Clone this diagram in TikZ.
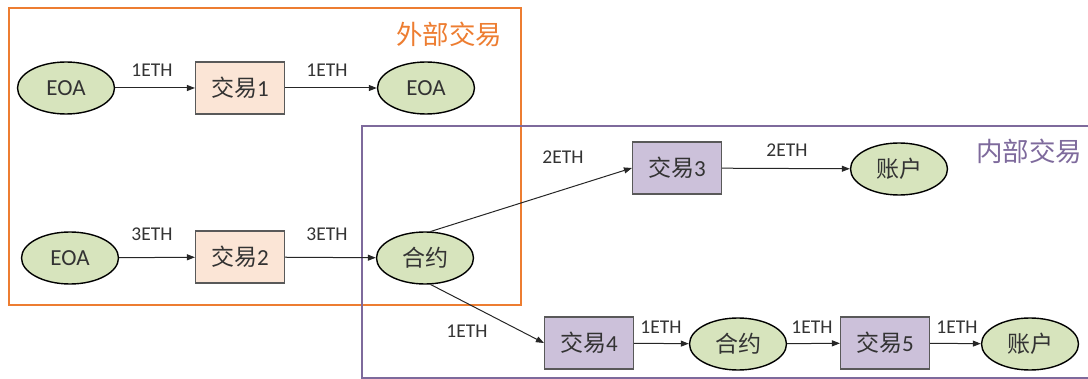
\documentclass[tikz,border=0pt]{standalone}
\usepackage{fontspec}
\setmainfont{Carlito}
\newfontfamily\cjk{Noto Sans CJK SC}
\usetikzlibrary{shapes.geometric,arrows.meta}
\definecolor{ellfill}{HTML}{D7E4BD}
\definecolor{peach}{HTML}{FBE5D6}
\definecolor{lilac}{HTML}{CCC1DA}
\definecolor{orangeframe}{HTML}{ED7D31}
\definecolor{purpleframe}{HTML}{7E6A9C}
\definecolor{txt}{HTML}{333333}
\definecolor{linec}{HTML}{262626}
\definecolor{boxborder}{HTML}{595959}
\begin{document}
\begin{tikzpicture}[x=1pt,y=-1pt,
  acct/.style={ellipse,draw=black,line width=1.4pt,fill=ellfill,minimum width=97pt,minimum height=52pt,inner sep=0pt,font=\fontsize{23}{23}\selectfont,text=txt},
  txa/.style={rectangle,draw=boxborder,line width=1.1pt,fill=peach,minimum width=89pt,minimum height=52pt,inner sep=0pt,font=\fontsize{23}{23}\selectfont,text=txt},
  txb/.style={txa,fill=lilac},
  conn/.style={draw=linec,line width=1pt,-{Triangle[length=8pt,width=6pt]}},
  lab/.style={font=\fontsize{19.5}{19.5}\selectfont,text=txt,inner sep=0pt},
  title/.style={font=\cjk\fontsize{26.5}{26.5}\selectfont,inner sep=0pt}]
\useasboundingbox (0,0) rectangle (1088,379);
\begin{scope}
\clip (0,0) rectangle (1088,379);
\draw[orangeframe,line width=2.2pt] (9,8) rectangle (521,305);
\draw[purpleframe,line width=2.2pt] (362,126) rectangle (1095,378);
\end{scope}
\node[title,text=orangeframe] (t1) at (449,34) {外部交易};
\node[title,text=purpleframe] (t2) at (1029,151) {内部交易};

\node[acct] (e1) at (66,88) {EOA};
\node[txa] (x1) at (240,88) {{\cjk 交易}1};
\node[acct] (e2) at (426,88) {EOA};

\node[acct] (e3) at (70,258) {EOA};
\node[txa] (x2) at (240,257) {{\cjk 交易}2};
\node[acct] (h1) at (425,258) {\cjk 合约};

\node[txb] (x3) at (677,168) {{\cjk 交易}3};
\node[acct] (a1) at (899,169) {\cjk 账户};

\node[txb] (x4) at (589,343) {{\cjk 交易}4};
\node[acct] (h2) at (738,344) {\cjk 合约};
\node[txb] (x5) at (885,343) {{\cjk 交易}5};
\node[acct] (a2) at (1030,344) {\cjk 账户};

\draw[conn] (e1) -- (x1);
\draw[conn] (x1) -- (e2);
\draw[conn] (e3) -- (x2);
\draw[conn] (x2) -- (h1);
\draw[conn] (h1.78) -- (x3.west);
\draw[conn] (x3) -- (a1);
\draw[conn] (h1.-78) -- (x4.west);
\draw[conn] (x4) -- (h2);
\draw[conn] (h2) -- (x5);
\draw[conn] (x5) -- (a2);

\node[lab] (l1) at (152,70) {1ETH};
\node[lab] (l2) at (327,70) {1ETH};
\node[lab] (l3) at (152,234) {3ETH};
\node[lab] (l4) at (327,234) {3ETH};
\node[lab] (l5) at (563,157) {2ETH};
\node[lab] (l6) at (787,150) {2ETH};
\node[lab] (l7) at (467,331) {1ETH};
\node[lab] (l8) at (661,327) {1ETH};
\node[lab] (l9) at (812,327) {1ETH};
\node[lab] (l10) at (957,327) {1ETH};
\end{tikzpicture}
\end{document}
